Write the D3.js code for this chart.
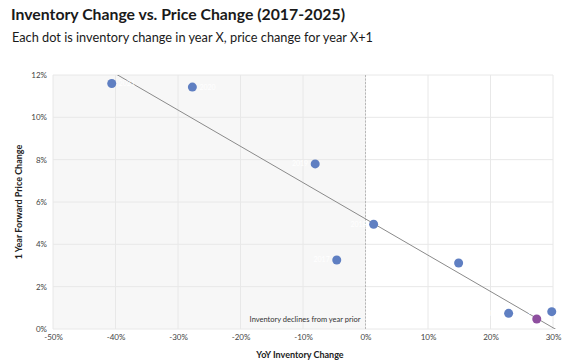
<!DOCTYPE html>
<html>
<head>
<meta charset="utf-8">
<script src="https://cdn.jsdelivr.net/npm/d3@7/dist/d3.min.js"></script>
<style>
  body { margin: 0; background: #fff; }
  svg { display: block; font-family: "Lato", "Noto Sans", sans-serif; }
</style>
</head>
<body>
<svg id="chart" width="574" height="364"></svg>
<script>
const years = ["2021", "2020", "2019", "2018", "2017", "2023", "2024", "2022", "2025"];
const inventoryChange = [-40.6, -27.7, -8.05, 1.3, -4.6, 14.9, 22.9, 29.8, 27.4];
const priceChange = [11.6, 11.43, 7.8, 4.95, 3.26, 3.12, 0.74, 0.82, 0.47];
const highlighted = [false, false, false, false, false, false, false, false, true];
const xTicks = [-50, -40, -30, -20, -10, 0, 10, 20, 30];
const yTicks = [0, 2, 4, 6, 8, 10, 12];

const svg = d3.select("#chart");
const W = 574, H = 364;
const m = { left: 53, right: 21, top: 75, bottom: 35 };

const x = d3.scaleLinear().domain([-50, 30]).range([m.left, W - m.right]);
const y = d3.scaleLinear().domain([0, 12]).range([H - m.bottom, m.top]);

// title
svg.append("text").attr("x", 11).attr("y", 20)
  .attr("font-size", 16).attr("font-weight", 700).attr("fill", "#1a1a1a")
  .attr("textLength", 334).attr("lengthAdjust", "spacingAndGlyphs")
  .text("Inventory Change vs. Price Change (2017-2025)");
svg.append("text").attr("x", 12).attr("y", 42)
  .attr("font-size", 12.5).attr("fill", "#1a1a1a")
  .attr("textLength", 361).attr("lengthAdjust", "spacingAndGlyphs")
  .text("Each dot is inventory change in year X, price change for year X+1");

// shaded region
svg.append("rect")
  .attr("x", x(-50)).attr("y", y(12))
  .attr("width", x(0) - x(-50)).attr("height", y(0) - y(12))
  .attr("fill", "#f7f7f7");

// grid
svg.append("g").selectAll("line").data(xTicks).join("line")
  .attr("x1", d => x(d)).attr("x2", d => x(d))
  .attr("y1", y(12)).attr("y2", y(0))
  .attr("stroke", "#e8e8e8").attr("stroke-width", 1);
svg.append("g").selectAll("line").data(yTicks).join("line")
  .attr("x1", x(-50)).attr("x2", x(30))
  .attr("y1", d => y(d)).attr("y2", d => y(d))
  .attr("stroke", "#e8e8e8").attr("stroke-width", 1);

// zero dashed line
svg.append("line")
  .attr("x1", x(0)).attr("x2", x(0)).attr("y1", y(12)).attr("y2", y(0))
  .attr("stroke", "#aaa").attr("stroke-width", 0.8).attr("stroke-dasharray", "2,1.5");

svg.append("text").attr("x", x(0) - 5).attr("y", y(0) - 7)
  .attr("text-anchor", "end").attr("font-size", 7.5).attr("fill", "#333")
  .text("Inventory declines from year prior");

// axes tick labels
const xAxis = d3.axisBottom(x).tickValues(xTicks).tickSize(0).tickPadding(5)
  .tickFormat(d => d + "%");
const gx = svg.append("g").attr("transform", `translate(0,${y(0)})`).call(xAxis);
gx.select(".domain").remove();
gx.selectAll("text").attr("font-size", 8).attr("fill", "#444").attr("font-family", "Lato, sans-serif");

const yAxis = d3.axisLeft(y).tickValues(yTicks).tickSize(0).tickPadding(6)
  .tickFormat(d => d + "%");
const gy = svg.append("g").attr("transform", `translate(${x(-50)},0)`).call(yAxis);
gy.select(".domain").remove();
gy.selectAll("text").attr("font-size", 8).attr("fill", "#444").attr("font-family", "Lato, sans-serif");

// axis titles
svg.append("text").attr("x", 300).attr("y", 358).attr("text-anchor", "middle")
  .attr("font-size", 9).attr("font-weight", 700).attr("fill", "#222")
  .text("YoY Inventory Change");
svg.append("text").attr("transform", `translate(22,${(y(0) + y(12)) / 2}) rotate(-90)`)
  .attr("text-anchor", "middle")
  .attr("font-size", 9).attr("font-weight", 700).attr("fill", "#222")
  .text("1 Year Forward Price Change");

// regression line (least squares from the points)
const n = inventoryChange.length;
const mx = d3.mean(inventoryChange), my = d3.mean(priceChange);
let sxy = 0, sxx = 0;
for (let i = 0; i < n; i++) {
  sxy += (inventoryChange[i] - mx) * (priceChange[i] - my);
  sxx += (inventoryChange[i] - mx) ** 2;
}
const slope = sxy / sxx, intercept = my - slope * mx;
svg.append("clipPath").attr("id", "plotclip").append("rect")
  .attr("x", x(-50)).attr("y", y(12)).attr("width", x(30) - x(-50) + 3).attr("height", y(0) - y(12));
svg.append("line")
  .attr("clip-path", "url(#plotclip)")
  .attr("x1", x(-50)).attr("y1", y(intercept + slope * -50))
  .attr("x2", x(31)).attr("y2", y(intercept + slope * 31))
  .attr("stroke", "#8a8a8a").attr("stroke-width", 1);

// points
const pts = d3.range(n).map(i => ({ yr: years[i], xv: inventoryChange[i], yv: priceChange[i], hl: highlighted[i] }));
svg.append("g").selectAll("circle").data(pts).join("circle")
  .attr("cx", d => x(d.xv)).attr("cy", d => y(d.yv)).attr("r", 4.5)
  .attr("fill", d => d.hl ? "#8e4f9f" : "#5f7fc2");

// white year labels (nearly invisible in the reference)
const leftSide = d => d.xv > 20 || (d.xv > -10 && d.xv < 5);
svg.append("g").selectAll("text").data(pts).join("text")
  .attr("x", d => x(d.xv) + (leftSide(d) ? -7 : 7))
  .attr("y", d => y(d.yv) + 2.5)
  .attr("text-anchor", d => leftSide(d) ? "end" : "start")
  .attr("font-size", 7).attr("fill", "#ffffff")
  .text(d => d.yr);
</script>
</body>
</html>
